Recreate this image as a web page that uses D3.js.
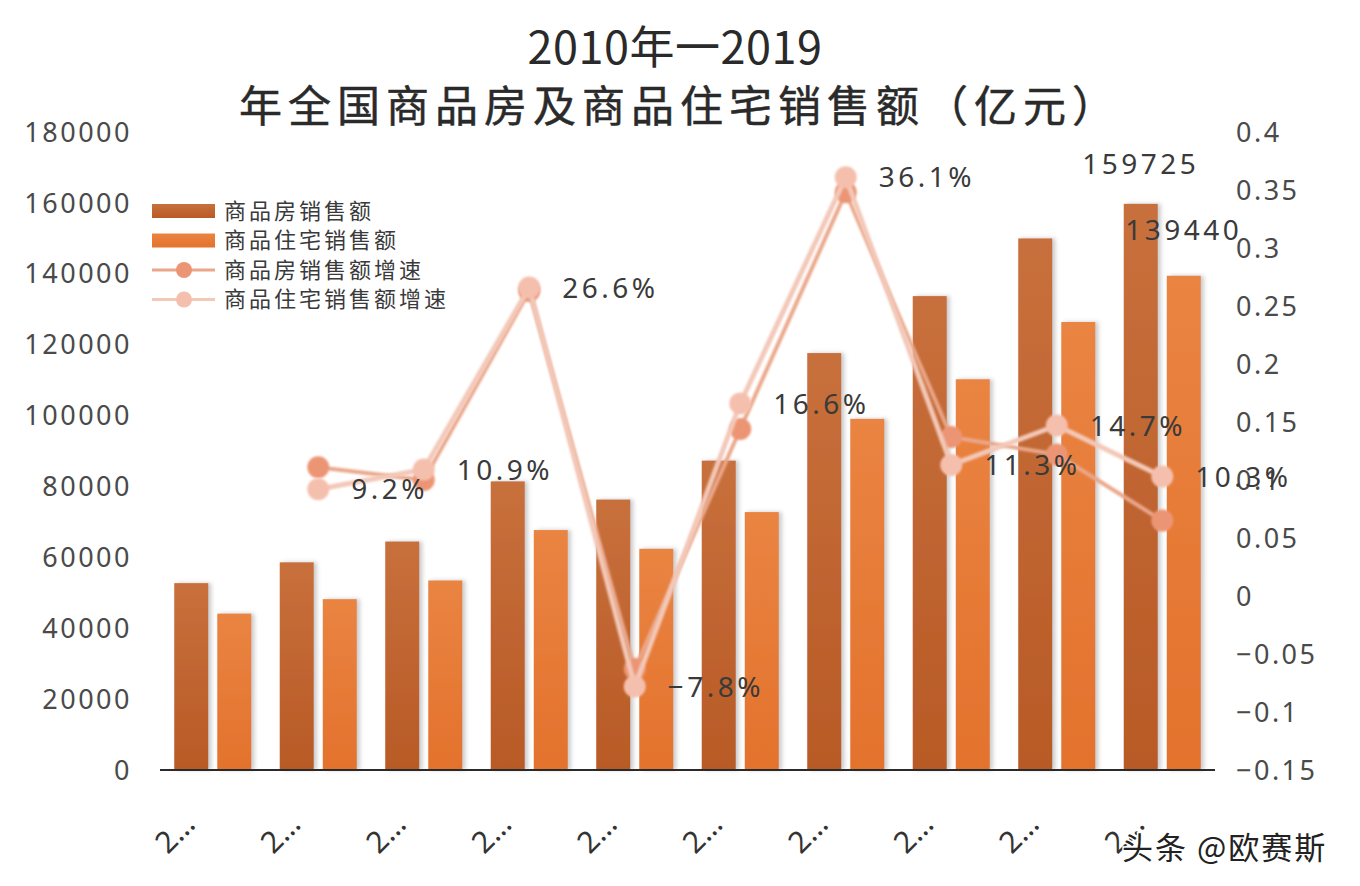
<!DOCTYPE html>
<html>
<head>
<meta charset="utf-8">
<script src="https://cdn.jsdelivr.net/npm/d3@7"></script>
<style>
  body { margin: 0; background: #fff; }
  text { font-family: "Noto Sans", "Noto Sans CJK SC", sans-serif; }
</style>
</head>
<body>
<div id="chart"></div>
<script>
// data
const years = ["2010", "2011", "2012", "2013", "2014", "2015", "2016", "2017", "2018", "2019"];
const salesAll = [52721, 58589, 64456, 81428, 76292, 87281, 117627, 133701, 149973, 159725];
const salesHouse = [44120, 48198, 53467, 67695, 62411, 72770, 99064, 110239, 126393, 139440];
const growthAll = [null, 0.111, 0.100, 0.263, -0.063, 0.144, 0.348, 0.137, 0.122, 0.065];
const growthHouse = [null, 0.092, 0.109, 0.266, -0.078, 0.166, 0.361, 0.113, 0.147, 0.103];
const leftTicks = [0, 20000, 40000, 60000, 80000, 100000, 120000, 140000, 160000, 180000];
const rightTicks = [-0.15, -0.1, -0.05, 0, 0.05, 0.1, 0.15, 0.2, 0.25, 0.3, 0.35, 0.4];
const seriesNames = ["商品房销售额", "商品住宅销售额", "商品房销售额增速", "商品住宅销售额增速"];

const width = 1360, height = 886;
const svg = d3.select("#chart").append("svg")
    .attr("width", width)
    .attr("height", height);

const defs = svg.append("defs");
function grad(id, top, bottom) {
    const g = defs.append("linearGradient").attr("id", id)
        .attr("x1", 0).attr("y1", 0).attr("x2", 0).attr("y2", 1);
    g.append("stop").attr("offset", "0%").attr("stop-color", top);
    g.append("stop").attr("offset", "100%").attr("stop-color", bottom);
}
grad("gDark", "#c8703c", "#b85a26");
grad("gLight", "#ea8442", "#e3722c");

const shadow = defs.append("filter").attr("id", "shadow")
    .attr("x", "-20%").attr("y", "-5%").attr("width", "150%").attr("height", "110%");
shadow.append("feDropShadow").attr("dx", 3).attr("dy", 0).attr("stdDeviation", 2)
    .attr("flood-color", "#888").attr("flood-opacity", 0.45);

const soft = defs.append("filter").attr("id", "soft");
soft.append("feGaussianBlur").attr("stdDeviation", 0.9);

// scales
const x0 = d3.scaleBand().domain(years).range([160, 1215])
    .paddingInner(0.27).paddingOuter(0.135);
const x1 = d3.scaleBand().domain([0, 1]).range([0, x0.bandwidth()]).paddingInner(0.21);
const yL = d3.scaleLinear().domain([0, 180000]).range([770, 132]);
const yR = d3.scaleLinear().domain([-0.15, 0.4]).range([770, 132]);
const cx = d => x0(d) + x0.bandwidth() / 2;

// titel
svg.append("text").attr("x", 675).attr("y", 64).attr("text-anchor", "middle")
    .style("font-family", "'Liberation Sans Narrow', 'Noto Sans CJK SC', sans-serif")
    .style("font-size", "45px").style("letter-spacing", "0.5px").style("fill", "#2a2a2a")
    .text("2010年一2019");
svg.append("text").attr("x", 680).attr("y", 122).attr("text-anchor", "middle")
    .style("font-family", "'Noto Sans CJK SC', sans-serif")
    .style("font-size", "43px").style("letter-spacing", "6px")
    .attr("stroke", "#2a2a2a").attr("stroke-width", 0.5)
    .style("fill", "#2a2a2a")
    .text("年全国商品房及商品住宅销售额（亿元）");

// achsen
const tickStyle = sel => sel.style("font-size", "27px").style("letter-spacing", "2.5px")
    .style("fill", "#4a4a4a");

svg.append("g").selectAll("text").data(leftTicks).join("text")
    .attr("x", 132).attr("y", d => yL(d)).attr("dy", "0.36em")
    .attr("text-anchor", "end").text(d => d).call(tickStyle);

svg.append("g").selectAll("text").data(rightTicks).join("text")
    .attr("x", 1236).attr("y", d => yR(d)).attr("dy", "0.36em")
    .text(d => d3.format("")(+d.toFixed(2)).replace("-", "−")).call(tickStyle);

// balken
const bars = svg.append("g").attr("filter", "url(#shadow)");
bars.selectAll(".dark").data(years).join("rect").attr("class", "dark")
    .attr("x", d => x0(d) + x1(0)).attr("width", x1.bandwidth())
    .attr("y", (d, i) => yL(salesAll[i])).attr("height", (d, i) => yL(0) - yL(salesAll[i]))
    .attr("fill", "url(#gDark)");
bars.selectAll(".light").data(years).join("rect").attr("class", "light")
    .attr("x", d => x0(d) + x1(1)).attr("width", x1.bandwidth())
    .attr("y", (d, i) => yL(salesHouse[i])).attr("height", (d, i) => yL(0) - yL(salesHouse[i]))
    .attr("fill", "url(#gLight)");

// grundlinie
svg.append("line").attr("x1", 160).attr("x2", 1215).attr("y1", yL(0)).attr("y2", yL(0))
    .attr("stroke", "#2a2a2a").attr("stroke-width", 2.2);

// x-beschriftung
svg.append("g").selectAll("text").data(years).join("text")
    .attr("transform", d => `translate(${cx(d) - 16},${826}) rotate(-45)`)
    .attr("text-anchor", "end")
    .style("font-size", "30px").style("fill", "#333")
    .text("2…");

// linien
function drawLine(values, lineColor, dotColor, lw) {
    const pts = years.map((y, i) => [cx(y), values[i]]).filter(p => p[1] !== null);
    const line = d3.line().x(p => p[0]).y(p => yR(p[1]));
    const g = svg.append("g").attr("filter", "url(#soft)");
    g.append("path").attr("d", line(pts)).attr("fill", "none")
        .attr("stroke", lineColor).attr("stroke-width", lw).attr("stroke-linejoin", "round");
    g.selectAll("circle").data(pts).join("circle")
        .attr("cx", p => p[0]).attr("cy", p => yR(p[1])).attr("r", 11)
        .attr("fill", dotColor);
}
drawLine(growthAll, "#eaa78a", "#ec9574", 4);
drawLine(growthHouse, "#f3c8b8", "#f5bfae", 5);

// prozent-labels
const labelStyle = sel => sel.style("font-size", "28px").style("letter-spacing", "3.5px")
    .style("fill", "#3a3a3a");
svg.append("g").selectAll("text")
    .data(years.map((y, i) => [y, growthHouse[i]]).filter(p => p[1] !== null))
    .join("text")
    .attr("x", p => cx(p[0]) + 33).attr("y", p => yR(p[1])).attr("dy", "0.36em")
    .text(p => (p[1] * 100).toFixed(1).replace("-", "−") + "%").call(labelStyle);

// werte 2019
const last = years.length - 1;
svg.append("text").attr("x", x0(years[last]) + x1(0) + x1.bandwidth() / 2).attr("y", yL(salesAll[last]) - 40)
    .attr("dy", "0.36em").attr("text-anchor", "middle").text(salesAll[last]).call(labelStyle);
svg.append("text").attr("x", x0(years[last]) + x1(1) + x1.bandwidth() / 2).attr("y", yL(salesHouse[last]) - 46)
    .attr("dy", "0.36em").attr("text-anchor", "middle").text(salesHouse[last]).call(labelStyle);

// legende
const legend = svg.append("g").attr("transform", "translate(152,211)");
const legItems = [
    { type: "bar", color: "url(#gDark)" },
    { type: "bar", color: "url(#gLight)" },
    { type: "line", color: "#eaa78a", dot: "#ec9574" },
    { type: "line", color: "#f3c8b8", dot: "#f5bfae" }
];
legItems.forEach((it, i) => {
    const g = legend.append("g").attr("transform", `translate(0,${i * 29.5})`);
    if (it.type === "bar") {
        g.append("rect").attr("x", 0).attr("y", -7).attr("width", 63).attr("height", 14)
            .attr("fill", it.color);
    } else {
        g.append("line").attr("x1", 0).attr("x2", 63).attr("stroke", it.color).attr("stroke-width", 3);
        g.append("circle").attr("cx", 32).attr("r", 8).attr("fill", it.dot);
    }
    g.append("text").attr("x", 72).attr("dy", "0.36em")
        .style("font-size", "22px").style("letter-spacing", "3px")
        .style("fill", "#3a3a3a").text(seriesNames[i]);
});

// wasserzeichen
svg.append("text").attr("x", 1122).attr("y", 859)
    .style("font-size", "31px").style("letter-spacing", "2px").style("font-family", "Noto Sans CJK SC")
    .attr("stroke", "#fff").attr("stroke-width", 3).attr("paint-order", "stroke")
    .style("fill", "#222").text("头条 @欧赛斯");
</script>
</body>
</html>
